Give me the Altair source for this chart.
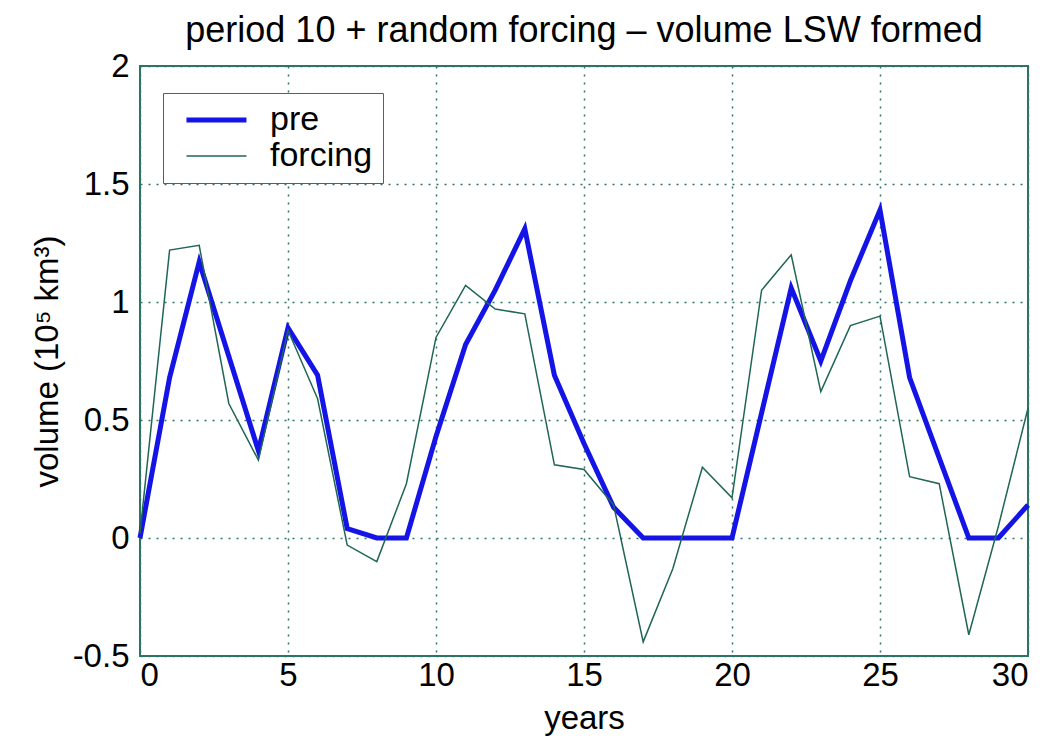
import altair as alt
import pandas as pd

years = list(range(31))
pre = [0.00, 0.68, 1.17, 0.77, 0.37, 0.89, 0.69, 0.04, 0.00, 0.00,
       0.43, 0.82, 1.05, 1.31, 0.69, 0.40, 0.13, 0.00, 0.00, 0.00,
       0.00, 0.53, 1.06, 0.75, 1.09, 1.39, 0.68, 0.34, 0.00, 0.00, 0.14]
forcing = [0.02, 1.22, 1.24, 0.57, 0.33, 0.88, 0.59, -0.03, -0.10, 0.23,
           0.85, 1.07, 0.97, 0.95, 0.31, 0.29, 0.14, -0.44, -0.13, 0.30,
           0.17, 1.05, 1.20, 0.62, 0.90, 0.94, 0.26, 0.23, -0.41, 0.05, 0.55]
series_names = ["pre", "forcing"]
x_ticks = [0, 5, 10, 15, 20, 25, 30]
y_ticks = [-0.5, 0, 0.5, 1, 1.5, 2]

rows = []
for name, vals in zip(series_names, [pre, forcing]):
    for yr, v in zip(years, vals):
        rows.append({"year": yr, "value": v, "series": name})
df = pd.DataFrame(rows)

FONT = "Liberation Sans"
TEAL = "#2b7565"

legend = alt.Legend(orient="none", legendX=23, legendY=27,
                    symbolType="M-0.47,0H7.53", symbolSize=225,
                    labelFontSize=34, labelFont=FONT, labelColor="black",
                    strokeColor=TEAL, fillColor="white",
                    padding=10, rowPadding=2, labelOffset=63)

chart = alt.Chart(df).mark_line(strokeJoin="miter").encode(
    x=alt.X("year:Q", title="years",
            scale=alt.Scale(domain=[0, 30], nice=False),
            axis=alt.Axis(values=x_ticks, format="d", labelPadding=3, titlePadding=10)),
    y=alt.Y("value:Q", title="volume (10⁵ km³)",
            scale=alt.Scale(domain=[-0.5, 2], nice=False),
            axis=alt.Axis(values=y_ticks, labelExpr="toString(datum.value)",
                          labelPadding=11, titlePadding=8)),
    color=alt.Color("series:N", title=None,
                    scale=alt.Scale(domain=series_names, range=["#1414e6", "#1f6656"]),
                    legend=legend),
    strokeWidth=alt.StrokeWidth("series:N", title=None,
                                scale=alt.Scale(domain=series_names, range=[5, 1.5]),
                                legend=legend),
    order=alt.Order("year:Q"),
).properties(
    width=888, height=590,
    padding={"left": 23, "top": 5, "right": 5, "bottom": 5},
    title=alt.TitleParams("period 10 + random forcing – volume LSW formed",
                          font=FONT, fontSize=36, fontWeight="normal", color="black",
                          offset=0),
).configure_view(
    stroke=TEAL, strokeWidth=2,
).configure_axis(
    grid=True, gridColor=TEAL, gridDash=[2, 6], gridWidth=1.5, gridOpacity=1,
    domain=False, ticks=False,
    labelFont=FONT, labelFontSize=33, labelColor="black",
    titleFont=FONT, titleFontSize=33, titleFontWeight="normal", titleColor="black",
)

chart.save("out.html", embed_options={"renderer": "svg", "actions": False})
